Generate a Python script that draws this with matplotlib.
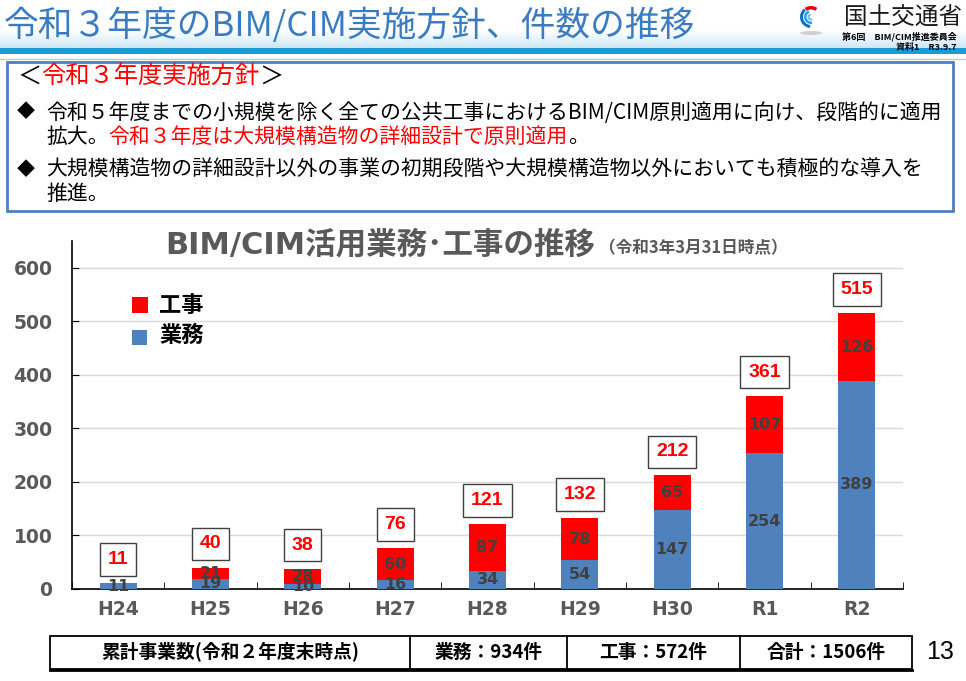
import numpy as np
import matplotlib.pyplot as plt
from matplotlib.patches import Rectangle, Wedge, Ellipse

plt.rcParams['font.family'] = ['Noto Sans CJK JP', 'DejaVu Sans']

# data
years = ['H24', 'H25', 'H26', 'H27', 'H28', 'H29', 'H30', 'R1', 'R2']
gyomu = [11, 19, 10, 16, 34, 54, 147, 254, 389]   # 業務
koji = [0, 21, 28, 60, 87, 78, 65, 107, 126]       # 工事
yticks = [0, 100, 200, 300, 400, 500, 600]
summary = ['累計事業数(令和２年度末時点)', '業務：934件', '工事：572件', '合計：1506件']

totals = [g + k for g, k in zip(gyomu, koji)]

fig = plt.figure(figsize=(9.66, 6.81), dpi=100)

# background axes in pixel coordinates for the slide decoration
bg = fig.add_axes([0, 0, 1, 1])
bg.set_xlim(0, 966)
bg.set_ylim(681, 0)
bg.axis('off')
rend = fig.canvas.get_renderer()


def runs(x, y, parts, **kw):
    # write coloured pieces of text one after another
    for s, c in parts:
        t = bg.text(x, y, s, color=c, ha='left', va='center', **kw)
        x += t.get_window_extent(renderer=rend).width
    return x


# header band
grad = np.linspace(0, 1, 50).reshape(-1, 1)
bg.imshow(grad, cmap=plt.matplotlib.colors.LinearSegmentedColormap.from_list('b', ['#ffffff', '#cde7f6']),
          extent=[0, 966, 48, 30], aspect='auto', zorder=0)
bg.add_patch(Rectangle((0, 48), 966, 6, color='#1b9ad6', lw=0))
bg.plot([0, 966], [58.5, 58.5], color='#c8c8c8', lw=1)
bg.set_xlim(0, 966)
bg.set_ylim(681, 0)

bg.text(4, 26, '令和３年度のBIM/CIM実施方針、件数の推移', fontsize=25, color='#3a7cc3',
        ha='left', va='center')

# logo
bg.add_patch(Ellipse((811, 33), 22, 4, color='#d0d0d0', lw=0))
bg.add_patch(Wedge((811, 17), 11, 235, 305, width=3.5, color='#e60012', lw=0))
bg.add_patch(Wedge((811, 17), 11, 95, 230, width=3, color='#0a6fc2', lw=0))
bg.add_patch(Wedge((811, 17), 7, 80, 250, width=2.5, color='#2f9be0', lw=0))
bg.add_patch(Wedge((811, 17), 3.5, 60, 260, width=2, color='#6cc0f0', lw=0))
bg.text(962, 18, '国土交通省', fontsize=17, ha='right', va='center', color='#1a1a1a')
bg.text(957, 37, '第6回　BIM/CIM推進委員会', fontsize=6.5, fontweight='bold', ha='right', va='center')
bg.text(957, 47, '資料1　R3.9.7', fontsize=6.5, fontweight='bold', ha='right', va='center')

# policy box
bg.add_patch(Rectangle((7, 62), 946, 149, fill=False, ec='#4f7fc0', lw=2))
runs(17, 77, [('＜', 'black'), ('令和３年度実施方針', '#ff0000'), ('＞', 'black')], fontsize=17.5)
bg.text(17, 112, '◆', fontsize=13, ha='left', va='center')
bg.text(17, 170, '◆', fontsize=13, ha='left', va='center')
runs(46, 113, [('令和５年度までの小規模を除く全ての公共工事におけるBIM/CIM原則適用に向け、段階的に適用', 'black')],
     fontsize=15)
runs(46, 137, [('拡大。', 'black'), ('令和３年度は大規模構造物の詳細設計で原則適用', '#ff0000'), ('。', 'black')],
     fontsize=15)
runs(46, 170, [('大規模構造物の詳細設計以外の事業の初期段階や大規模構造物以外においても積極的な導入を', 'black')],
     fontsize=15)
runs(46, 194, [('推進。', 'black')], fontsize=15)

# chart title and legend
tx = runs(165, 245, [('BIM/CIM活用業務･工事の推移', '#595959')], fontsize=22, fontweight='bold',
          family=['DejaVu Sans', 'Noto Sans CJK JP'])
bg.text(tx + 4, 248, '（令和3年3月31日時点）', fontsize=12, fontweight='bold', color='#595959',
        ha='left', va='center')
bg.add_patch(Rectangle((132, 297), 16, 16, color='#ff0000', lw=0))
bg.add_patch(Rectangle((132, 330), 15, 15, color='#4f81bd', lw=0))
bg.text(159, 306, '工事', fontsize=16, fontweight='bold', ha='left', va='center')
bg.text(159, 335, '業務', fontsize=16, fontweight='bold', ha='left', va='center')

# chart
ax = fig.add_axes([72 / 966, 1 - 589 / 681, (903 - 72) / 966, (589 - 241) / 681])
ax.set_facecolor('none')
x = np.arange(len(years))
ax.bar(x, gyomu, width=0.4, color='#4f81bd', zorder=3)
ax.bar(x, koji, bottom=gyomu, width=0.4, color='#ff0000', zorder=3)

for i in range(len(years)):
    if gyomu[i] > 0:
        ax.text(x[i], gyomu[i] / 2, str(gyomu[i]), ha='center', va='center', fontsize=11.5,
                fontweight='bold', color='#404040', family='DejaVu Sans', zorder=5)
    if koji[i] > 0:
        ax.text(x[i], gyomu[i] + koji[i] / 2, str(koji[i]), ha='center', va='center', fontsize=11.5,
                fontweight='bold', color='#404040', family='DejaVu Sans', zorder=5)
    ax.annotate(str(totals[i]), (x[i], totals[i]), xytext=(0, 17), textcoords='offset points',
                ha='center', va='center', fontsize=14, fontweight='bold', color='#ff0000',
                family='Liberation Sans', zorder=6,
                bbox=dict(boxstyle='square,pad=0.4', fc='white', ec='#404040', lw=1))

ax.set_xlim(-0.5, len(years) - 0.5)
ax.set_ylim(0, 650)
ax.set_yticks(yticks)
ax.set_xticks(x, years)
ax.set_xticks(np.arange(-0.5, len(years), 1), minor=True)
ax.yaxis.grid(True, color='#d9d9d9', lw=1, zorder=0)
ax.tick_params(axis='x', which='major', length=0, pad=8)
ax.tick_params(axis='x', which='minor', direction='in', length=5, color='black')
ax.tick_params(axis='y', direction='in', length=5, pad=14, color='black')
for lab in ax.get_xticklabels() + ax.get_yticklabels():
    lab.set_family('DejaVu Sans')
    lab.set_fontweight('bold')
    lab.set_fontsize(13.5)
    lab.set_color('#595959')
for s in ['top', 'right']:
    ax.spines[s].set_visible(False)
for s in ['left', 'bottom']:
    ax.spines[s].set_linewidth(1.2)
    ax.spines[s].set_color('black')

# summary table
edges = [50, 410, 567, 740, 912]
bg.add_patch(Rectangle((50, 636), 862, 33, fill=False, ec='black', lw=1.3))
bg.plot([50, 912], [669.5, 669.5], color='black', lw=2)
for xe in edges[1:-1]:
    bg.plot([xe, xe], [636, 669], color='black', lw=1.3)
for j, s in enumerate(summary):
    bg.text((edges[j] + edges[j + 1]) / 2, 652, s, fontsize=13.5, fontweight='bold',
            ha='center', va='center')
bg.text(940, 652, '13', fontsize=18, ha='center', va='center', family='Liberation Sans')

fig.savefig('out.png', dpi=100)
